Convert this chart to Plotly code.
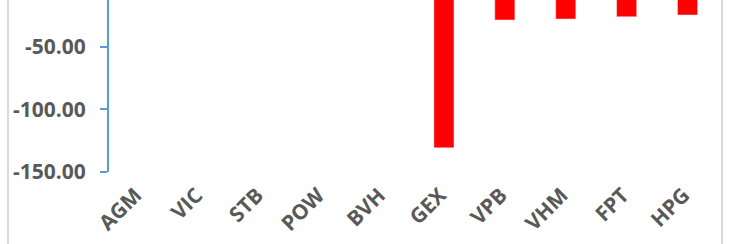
import plotly.graph_objects as go

categories = ["AGM", "VIC", "STB", "POW", "BVH", "GEX", "VPB", "VHM", "FPT", "HPG"]
# First five bars lie above the visible (cropped) area, values not readable
values = [None, None, None, None, None, -130.7, -28.6, -27.8, -26.0, -24.6]
tick_vals = [-50, -100, -150]
tick_text = ["-50.00", "-100.00", "-150.00"]

fig = go.Figure(go.Bar(
    x=categories, y=values, marker_color="#FF0000", width=0.33,
))

W, H = 729, 244
L, R, T, B = 109, 11, 0, 72
fig.update_layout(
    width=W, height=H,
    margin=dict(l=L, r=R, t=T, b=B, autoexpand=False),
    plot_bgcolor="white", paper_bgcolor="white",
    showlegend=False,
    font=dict(family="Open Sans", color="#595959"),
)
fig.update_yaxes(
    range=[-150, -12.6], tickvals=tick_vals, ticktext=tick_text,
    showgrid=False, zeroline=False, automargin=False,
    showline=True, linecolor="#5B9BD5", linewidth=2,
    ticks="outside", ticklen=7, tickcolor="#5B9BD5", tickwidth=2,
    tickfont=dict(size=21, family="Open Sans", color="#595959", weight="bold"),
    ticklabelstandoff=10,
)
fig.update_xaxes(
    showgrid=False, showline=False, ticks="", automargin=False,
    tickangle=-45,
    tickvals=categories, ticktext=[c + "\u00a0" for c in categories],
    tickfont=dict(size=21, family="Open Sans", color="#595959", weight="bold"),
    ticklabelstandoff=2,
)
pw = W - L - R
for px, wd in [(8, 2), (722, 2)]:
    xp = (px - L) / pw
    fig.add_shape(type="line", xref="paper", yref="paper",
                  x0=xp, x1=xp, y0=-1, y1=2,
                  line=dict(color="#D9D9D9", width=wd))

fig.write_html("out.html", config={"displayModeBar": False},
               post_script="document.body.style.margin='0';document.body.style.overflow='hidden';")
